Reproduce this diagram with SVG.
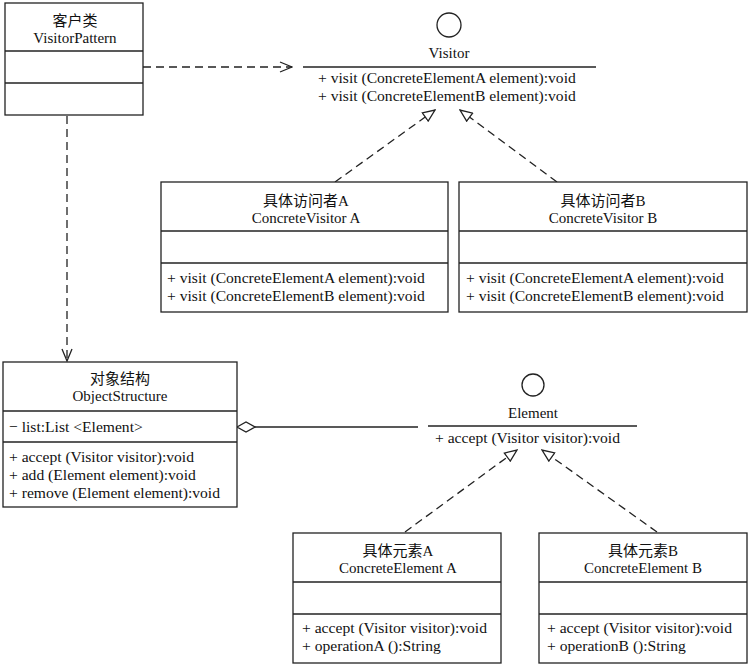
<svg xmlns="http://www.w3.org/2000/svg" width="750" height="665" viewBox="0 0 750 665">
<style>
.box{fill:#fff;stroke:#222;stroke-width:1.3}
.ln{stroke:#222;stroke-width:1.3;fill:none}
.dash{stroke:#222;stroke-width:1.3;fill:none;stroke-dasharray:8 5}
text{font-family:"Liberation Serif","Noto Sans CJK SC",serif;font-size:15px;fill:#111}
.m{font-size:15.6px}
.c{text-anchor:middle}
</style>
<defs>
<marker id="tri" viewBox="0 0 14 12" refX="13" refY="6" markerWidth="14" markerHeight="12" markerUnits="userSpaceOnUse" orient="auto">
<path d="M1,1 L13,6 L1,11 Z" fill="#fff" stroke="#222" stroke-width="1.3"/>
</marker>
<marker id="open" viewBox="0 0 14 12" refX="13" refY="6" markerWidth="14" markerHeight="12" markerUnits="userSpaceOnUse" orient="auto">
<path d="M1,1 L13,6 L1,11" fill="none" stroke="#222" stroke-width="1.3"/>
</marker>
</defs>
<rect width="750" height="665" fill="#fff"/>

<g id="connectors">
<line class="dash" x1="143" y1="67" x2="292" y2="67" marker-end="url(#open)"/>
<line class="dash" x1="67" y1="116" x2="67" y2="361" marker-end="url(#open)"/>
<line class="dash" x1="335" y1="182" x2="435" y2="110" marker-end="url(#tri)"/>
<line class="dash" x1="557" y1="182" x2="460" y2="110" marker-end="url(#tri)"/>
<line class="dash" x1="405" y1="532" x2="517" y2="450" marker-end="url(#tri)"/>
<line class="dash" x1="657" y1="532" x2="542" y2="450" marker-end="url(#tri)"/>
<path class="ln" d="M237,427 L246,422 L255,427 L246,432 Z" fill="#fff"/>
<line class="ln" x1="255" y1="427" x2="418" y2="427"/>
</g>

<g id="client">
<rect class="box" x="5" y="3" width="138" height="112"/>
<line class="ln" x1="5" y1="51" x2="143" y2="51"/>
<line class="ln" x1="5" y1="83" x2="143" y2="83"/>
<text class="c" x="75" y="26">客户类</text>
<text class="c" x="75" y="43">VisitorPattern</text>
</g>

<g id="visitor">
<circle class="ln" cx="449" cy="25" r="12"/>
<text class="c" x="449" y="58">Visitor</text>
<line class="ln" x1="303" y1="67" x2="596" y2="67"/>
<text class="m" x="318" y="83">+ visit (ConcreteElementA element):void</text>
<text class="m" x="318" y="101">+ visit (ConcreteElementB element):void</text>
</g>

<g id="concreteVisitorA">
<rect class="box" x="161" y="182" width="287" height="130"/>
<line class="ln" x1="161" y1="231" x2="448" y2="231"/>
<line class="ln" x1="161" y1="263" x2="448" y2="263"/>
<text class="c" x="306" y="206">具体访问者A</text>
<text class="c" x="306" y="223">ConcreteVisitor A</text>
<text class="m" x="167" y="283">+ visit (ConcreteElementA element):void</text>
<text class="m" x="167" y="301">+ visit (ConcreteElementB element):void</text>
</g>

<g id="concreteVisitorB">
<rect class="box" x="459" y="182" width="288" height="130"/>
<line class="ln" x1="459" y1="231" x2="747" y2="231"/>
<line class="ln" x1="459" y1="263" x2="747" y2="263"/>
<text class="c" x="603" y="206">具体访问者B</text>
<text class="c" x="603" y="223">ConcreteVisitor B</text>
<text class="m" x="466" y="283">+ visit (ConcreteElementA element):void</text>
<text class="m" x="466" y="301">+ visit (ConcreteElementB element):void</text>
</g>

<g id="objectStructure">
<rect class="box" x="3" y="362" width="234" height="145"/>
<line class="ln" x1="3" y1="411" x2="237" y2="411"/>
<line class="ln" x1="3" y1="442" x2="237" y2="442"/>
<text class="c" x="120" y="384">对象结构</text>
<text class="c" x="120" y="401">ObjectStructure</text>
<text class="m" x="9" y="432">− list:List &lt;Element&gt;</text>
<text class="m" x="9" y="462">+ accept (Visitor visitor):void</text>
<text class="m" x="9" y="480">+ add (Element element):void</text>
<text class="m" x="9" y="498">+ remove (Element element):void</text>
</g>

<g id="element">
<circle class="ln" cx="533" cy="385" r="11"/>
<text class="c" x="533" y="418">Element</text>
<line class="ln" x1="428" y1="426" x2="637" y2="426"/>
<text class="m" x="435" y="443">+ accept (Visitor visitor):void</text>
</g>

<g id="concreteElementA">
<rect class="box" x="293" y="533" width="208" height="130"/>
<line class="ln" x1="293" y1="582" x2="501" y2="582"/>
<line class="ln" x1="293" y1="614" x2="501" y2="614"/>
<text class="c" x="398" y="556">具体元素A</text>
<text class="c" x="398" y="573">ConcreteElement A</text>
<text class="m" x="302" y="633">+ accept (Visitor visitor):void</text>
<text class="m" x="302" y="651">+ operationA ():String</text>
</g>

<g id="concreteElementB">
<rect class="box" x="539" y="533" width="208" height="130"/>
<line class="ln" x1="539" y1="582" x2="747" y2="582"/>
<line class="ln" x1="539" y1="614" x2="747" y2="614"/>
<text class="c" x="643" y="556">具体元素B</text>
<text class="c" x="643" y="573">ConcreteElement B</text>
<text class="m" x="547" y="633">+ accept (Visitor visitor):void</text>
<text class="m" x="547" y="651">+ operationB ():String</text>
</g>
</svg>
